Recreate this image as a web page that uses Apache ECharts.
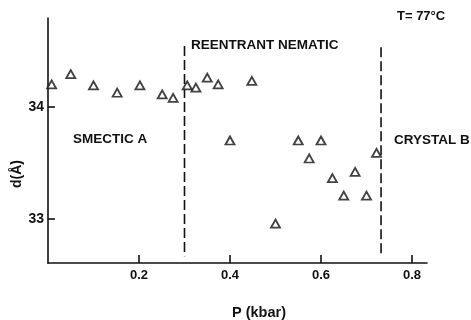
<!DOCTYPE html>
<html>
<head>
<meta charset="utf-8">
<script src="https://cdn.jsdelivr.net/npm/echarts@6/dist/echarts.min.js"></script>
<style>
  html, body { margin: 0; padding: 0; background: #fff; }
  #chart { width: 471px; height: 320px; }
</style>
</head>
<body>
<div id="chart"></div>
<script>
// Layer spacing d (Å) versus pressure P (kbar) at T = 77 °C
const pressure = [0.008, 0.05, 0.10, 0.152, 0.202, 0.251, 0.275, 0.306, 0.325, 0.35, 0.374,
                  0.40, 0.448, 0.50, 0.55, 0.574, 0.60, 0.625, 0.65, 0.675, 0.70, 0.722];
const spacing  = [34.20, 34.29, 34.19, 34.125, 34.19, 34.11, 34.08, 34.19, 34.17, 34.26, 34.20,
                  33.70, 34.23, 32.96, 33.70, 33.54, 33.70, 33.365, 33.21, 33.42, 33.21, 33.59];

// Phase boundaries (kbar) and the vertical span of the dashed lines (Å)
const boundaries = [0.30, 0.732];
const boundarySpan = [[34.54, 32.67], [34.53, 32.68]];

// Axis tick values
const xTicks = [0.2, 0.4, 0.6, 0.8];
const yTicks = [33, 34];

// Text annotations
const phaseLabels = ['SMECTIC A', 'REENTRANT NEMATIC', 'CRYSTAL B'];
const tempLabel = 'T= 77°C';
const xName = 'P (kbar)';
const yName = 'd(Å)';

const FONT = '"Liberation Sans", Arial, sans-serif';
const INK = '#111';

const points = pressure.map((p, i) => [p, spacing[i]]);

const boundarySeries = boundaries.map((b, i) => ({
  type: 'line',
  data: [[b, boundarySpan[i][0]], [b, boundarySpan[i][1]]],
  symbol: 'none',
  silent: true,
  lineStyle: { color: INK, width: 1.6, type: [10, 4] },
  z: 1
}));

const chart = echarts.init(document.getElementById('chart'), null, { renderer: 'canvas' });

chart.setOption({
  backgroundColor: '#fff',
  animation: false,
  grid: { left: 48, top: 18, right: 44, bottom: 57, containLabel: false },
  xAxis: {
    type: 'value',
    min: 0,
    max: 0.833,
    axisLine: { show: true, lineStyle: { color: INK, width: 1.6 } },
    axisTick: { show: true, inside: true, length: 8, customValues: xTicks, lineStyle: { color: INK, width: 1.6 } },
    axisLabel: {
      customValues: xTicks,
      margin: 6,
      color: INK, fontFamily: FONT, fontWeight: 'bold', fontSize: 13,
      formatter: v => v.toFixed(1)
    },
    splitLine: { show: false }
  },
  yAxis: {
    type: 'value',
    min: 32.61,
    max: 34.79,
    axisLine: { show: true, lineStyle: { color: INK, width: 1.6 } },
    axisTick: { show: true, inside: true, length: 7, customValues: yTicks, lineStyle: { color: INK, width: 1.6 } },
    axisLabel: {
      customValues: yTicks,
      margin: 4,
      color: INK, fontFamily: FONT, fontWeight: 'bold', fontSize: 14,
      formatter: v => String(Math.round(v))
    },
    splitLine: { show: false }
  },
  series: [
    ...boundarySeries,
    {
      type: 'scatter',
      data: points,
      symbol: 'triangle',
      symbolSize: [9, 8],
      itemStyle: { color: '#fff', borderColor: INK, borderWidth: 1.8 },
      z: 3
    }
  ],
  graphic: [
    { type: 'text', left: 397, top: 10, style: { text: tempLabel, fill: INK, font: 'bold 13px ' + FONT } },
    { type: 'text', left: 73, top: 132, style: { text: phaseLabels[0], fill: INK, font: 'bold 13.5px ' + FONT } },
    { type: 'text', left: 191, top: 38, style: { text: phaseLabels[1], fill: INK, font: 'bold 13.5px ' + FONT } },
    { type: 'text', left: 394, top: 133, style: { text: phaseLabels[2], fill: INK, font: 'bold 13.5px ' + FONT } },
    { type: 'text', left: 232, top: 305, style: { text: xName, fill: INK, font: 'bold 14.5px ' + FONT } },
    {
      type: 'text', x: 17, y: 174, rotation: Math.PI / 2,
      style: { text: yName, fill: INK, font: 'bold 14px ' + FONT, align: 'center', verticalAlign: 'middle' }
    }
  ]
});
</script>
</body>
</html>
